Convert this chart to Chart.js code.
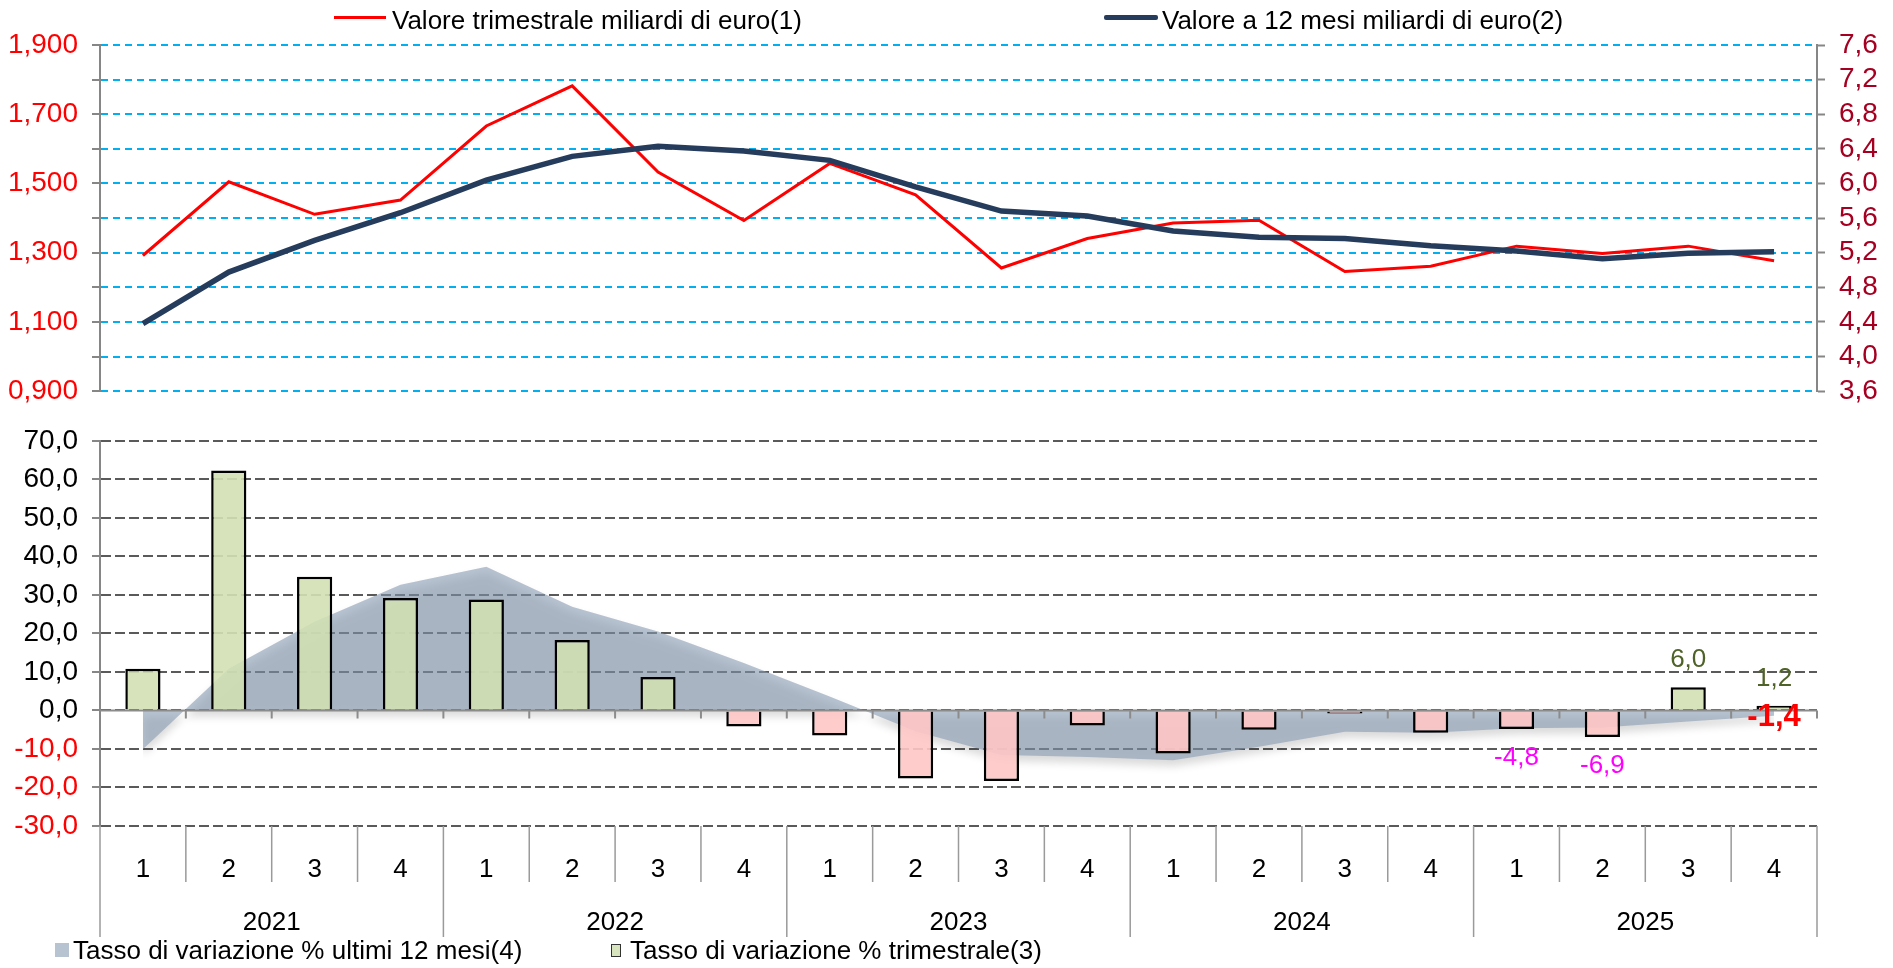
<!DOCTYPE html>
<html>
<head>
<meta charset="utf-8">
<script src="https://cdn.jsdelivr.net/npm/chart.js@4.4.1/dist/chart.umd.min.js"></script>
<style>
  body { margin: 0; background: #fff; }
  #wrap { position: relative; width: 1893px; height: 968px; overflow: hidden; font-family: 'Liberation Sans', Arial, sans-serif; }
  .box { position: absolute; left: 0; width: 1893px; }
  .txt { position: absolute; font-size: 26px; line-height: 30px; color: #000; white-space: nowrap; }
  .mk { position: absolute; }
</style>
</head>
<body>
<div id="wrap">
  <div class="box" style="top:0;height:422px"><canvas id="topChart"></canvas></div>
  <div class="box" style="top:410px;height:558px"><canvas id="bottomChart"></canvas></div>

  <div class="mk" style="left:334px;top:16px;width:52px;height:3px;background:#FF0000"></div>
  <div class="txt" style="left:392px;top:5px">Valore trimestrale miliardi di euro(1)</div>
  <div class="mk" style="left:1104px;top:15px;width:54px;height:5px;background:#263C5C;border-radius:2px"></div>
  <div class="txt" style="left:1162px;top:5px">Valore a 12 mesi miliardi di euro(2)</div>

  <div class="mk" style="left:55px;top:943px;width:14px;height:14px;background:#B8C3D1"></div>
  <div class="txt" style="left:73px;top:935px">Tasso di variazione % ultimi 12 mesi(4)</div>
  <div class="mk" style="left:611px;top:944px;width:8px;height:11px;background:#D7E4BD;border:1.5px solid #333"></div>
  <div class="txt" style="left:630px;top:935px">Tasso di variazione % trimestrale(3)</div>
</div>
<script>
var quarters = ['1','2','3','4','1','2','3','4','1','2','3','4','1','2','3','4','1','2','3','4'];
var years = ['2021','2022','2023','2024','2025'];

var valoreTrimestrale = [1.292, 1.505, 1.411, 1.452, 1.666, 1.782, 1.533, 1.393, 1.558, 1.467,
                         1.256, 1.341, 1.386, 1.394, 1.246, 1.261, 1.319, 1.298, 1.319, 1.277];
var valore12Mesi = [4.382, 4.976, 5.342, 5.662, 6.039, 6.313, 6.429, 6.375, 6.267, 5.96,
                    5.681, 5.623, 5.45, 5.38, 5.365, 5.28, 5.219, 5.13, 5.195, 5.211];

var tassoTrimestrale = [10.8, 62.3, 34.7, 29.2, 28.8, 18.3, 8.7, -4.2, -6.5, -17.7,
                        -18.3, -3.9, -11.2, -5.0, -0.8, -5.8, -4.8, -6.9, 6.0, 1.2];
var tasso12Mesi = [-10.1, 10.8, 23.0, 32.6, 37.3, 26.9, 20.5, 12.3, 3.6, -5.4,
                   -11.6, -12.1, -12.9, -9.4, -5.5, -5.8, -4.6, -4.4, -2.9, -1.4];

var barLabels = [null, null, null, null, null, null, null, null, null, null,
                 null, null, null, null, null, null, '-4,8', '-6,9', '6,0', '1,2'];
var areaLabels = [null, null, null, null, null, null, null, null, null, null,
                  null, null, null, null, null, null, null, null, null, '-1,4'];

var FONT = "'Liberation Sans', Arial, sans-serif";
Chart.defaults.font.family = FONT;
Chart.defaults.font.size = 26;
Chart.defaults.color = '#000';

function comma(v, d) {
  return v.toFixed(d).replace('.', ',');
}

new Chart(document.getElementById('topChart'), {
  type: 'line',
  data: {
    labels: quarters,
    datasets: [
      {
        label: 'Valore trimestrale miliardi di euro(1)',
        data: valoreTrimestrale,
        borderColor: '#FF0000',
        borderWidth: 3,
        pointRadius: 0,
        yAxisID: 'y',
        order: 2
      },
      {
        label: 'Valore a 12 mesi miliardi di euro(2)',
        data: valore12Mesi,
        borderColor: '#263C5C',
        borderWidth: 5.5,
        pointRadius: 0,
        yAxisID: 'y2',
        order: 1
      }
    ]
  },
  options: {
    responsive: true,
    maintainAspectRatio: false,
    animation: false,
    layout: { padding: { top: 45, bottom: 0, left: 0, right: 0 } },
    plugins: { legend: { display: false }, tooltip: { enabled: false } },
    scales: {
      x: { display: false, offset: true },
      y: {
        position: 'left',
        min: 0.9,
        max: 1.9,
        afterFit: function(s) { s.width = 100; },
        ticks: {
          stepSize: 0.1,
          autoSkip: false,
          color: '#FF0000',
          padding: 14,
          font: { size: 28 },
          callback: function(v) { return Math.round(v * 10) % 2 ? comma(v, 3) : ''; }
        },
        grid: { color: '#00B0F0', lineWidth: 2, tickColor: '#868686', tickLength: 8, tickWidth: 2 },
        border: { display: true, color: '#868686', width: 2, dash: [7, 5] }
      },
      y2: {
        position: 'right',
        min: 3.6,
        max: 7.6,
        afterFit: function(s) { s.width = 76; },
        ticks: {
          stepSize: 0.4,
          autoSkip: false,
          color: '#A50021',
          padding: 14,
          font: { size: 28 },
          callback: function(v) { return comma(v, 1); }
        },
        grid: { drawOnChartArea: false, tickColor: '#868686', tickLength: 8, tickWidth: 2 },
        border: { display: true, color: '#868686', width: 2 }
      }
    }
  }
});

var bottomDecor = {
  id: 'bottomDecor',
  beforeDatasetsDraw: function(chart) {
    var ctx = chart.ctx;
    ctx.save();
    ctx.shadowColor = 'rgba(0,0,0,0.25)';
    ctx.shadowBlur = 8;
    ctx.shadowOffsetY = 6;
  },
  afterDatasetDraw: function(chart, args) {
    if (args.index === 0) chart.ctx.restore();
  },
  afterDatasetsDraw: function(chart) {
    var ctx = chart.ctx;
    var area = chart.chartArea;
    var x = chart.scales.x;
    var y = chart.scales.y;
    var n = quarters.length;
    var half = (x.getPixelForValue(1) - x.getPixelForValue(0)) / 2;
    var y0 = y.getPixelForValue(0);

    ctx.save();
    ctx.strokeStyle = '#8C8C8C';
    ctx.lineWidth = 2;
    ctx.beginPath();
    ctx.moveTo(area.left, y0);
    ctx.lineTo(area.right, y0);
    for (var i = 1; i <= n; i++) {
      var px = x.getPixelForValue(i - 1) + half;
      ctx.moveTo(px, y0);
      ctx.lineTo(px, y0 + 8);
    }
    ctx.stroke();

    // separatori asse categorie
    ctx.strokeStyle = '#9A9A9A';
    ctx.lineWidth = 1.5;
    ctx.beginPath();
    for (var j = 0; j <= n; j++) {
      var sx = j < n ? x.getPixelForValue(j) - half : x.getPixelForValue(n - 1) + half;
      ctx.moveTo(sx, area.bottom);
      ctx.lineTo(sx, area.bottom + (j % 4 === 0 ? 111 : 56));
    }
    ctx.stroke();

    ctx.textAlign = 'center';
    ctx.textBaseline = 'middle';
    var bars = chart.getDatasetMeta(1).data;
    ctx.font = '26px ' + FONT;
    for (var k = 0; k < n; k++) {
      if (!barLabels[k]) continue;
      var pos = tassoTrimestrale[k] >= 0;
      ctx.fillStyle = pos ? '#4F6228' : '#FF00FF';
      ctx.fillText(barLabels[k], bars[k].x, bars[k].y + (pos ? -27 : 29));
    }
    var pts = chart.getDatasetMeta(0).data;
    ctx.font = 'bold 31px ' + FONT;
    ctx.fillStyle = '#FF0000';
    for (var m = 0; m < n; m++) {
      if (!areaLabels[m]) continue;
      ctx.fillText(areaLabels[m], pts[m].x, pts[m].y + 2);
    }
    ctx.restore();
  }
};

new Chart(document.getElementById('bottomChart'), {
  type: 'bar',
  data: {
    labels: quarters,
    datasets: [
      {
        type: 'line',
        label: 'Tasso di variazione % ultimi 12 mesi(4)',
        data: tasso12Mesi,
        fill: 'origin',
        backgroundColor: 'rgba(137,155,178,0.6)',
        borderColor: 'transparent',
        borderWidth: 0,
        pointRadius: 0,
        order: 2
      },
      {
        type: 'bar',
        label: 'Tasso di variazione % trimestrale(3)',
        data: tassoTrimestrale,
        backgroundColor: tassoTrimestrale.map(function(v) {
          return v >= 0 ? 'rgba(210,224,180,0.9)' : 'rgba(255,198,198,0.9)';
        }),
        borderColor: '#000',
        borderWidth: 2.5,
        barPercentage: 0.41,
        categoryPercentage: 1,
        order: 1
      }
    ]
  },
  options: {
    responsive: true,
    maintainAspectRatio: false,
    animation: false,
    layout: { padding: { top: 0, bottom: 31, left: 0, right: 76 } },
    plugins: { legend: { display: false }, tooltip: { enabled: false } },
    scales: {
      x: {
        position: 'bottom',
        offset: true,
        afterFit: function(s) { s.height = 70; },
        grid: { display: false },
        border: { display: false },
        ticks: { padding: 20, maxRotation: 0, autoSkip: false }
      },
      x2: {
        type: 'linear',
        position: 'bottom',
        offset: false,
        min: -0.5,
        max: 19.5,
        afterFit: function(s) { s.height = 41; },
        afterBuildTicks: function(s) {
          s.ticks = years.map(function(y, i) { return { value: i * 4 + 1.5 }; });
        },
        grid: { display: false },
        border: { display: false },
        ticks: {
          padding: 3,
          maxRotation: 0,
          autoSkip: false,
          callback: function(v, i) { return years[i]; }
        }
      },
      y: {
        min: -30,
        max: 70,
        afterFit: function(s) { s.width = 100; },
        ticks: {
          stepSize: 10,
          autoSkip: false,
          padding: 14,
          font: { size: 28 },
          color: function(c) { return c.tick && c.tick.value < 0 ? '#FF0000' : '#000000'; },
          callback: function(v) { return comma(v, 1); }
        },
        grid: { color: '#5A5A5A', lineWidth: 2, tickColor: '#868686', tickLength: 8, tickWidth: 2 },
        border: { display: true, color: '#868686', width: 2, dash: [10, 4] }
      }
    }
  },
  plugins: [bottomDecor]
});
</script>
</body>
</html>
